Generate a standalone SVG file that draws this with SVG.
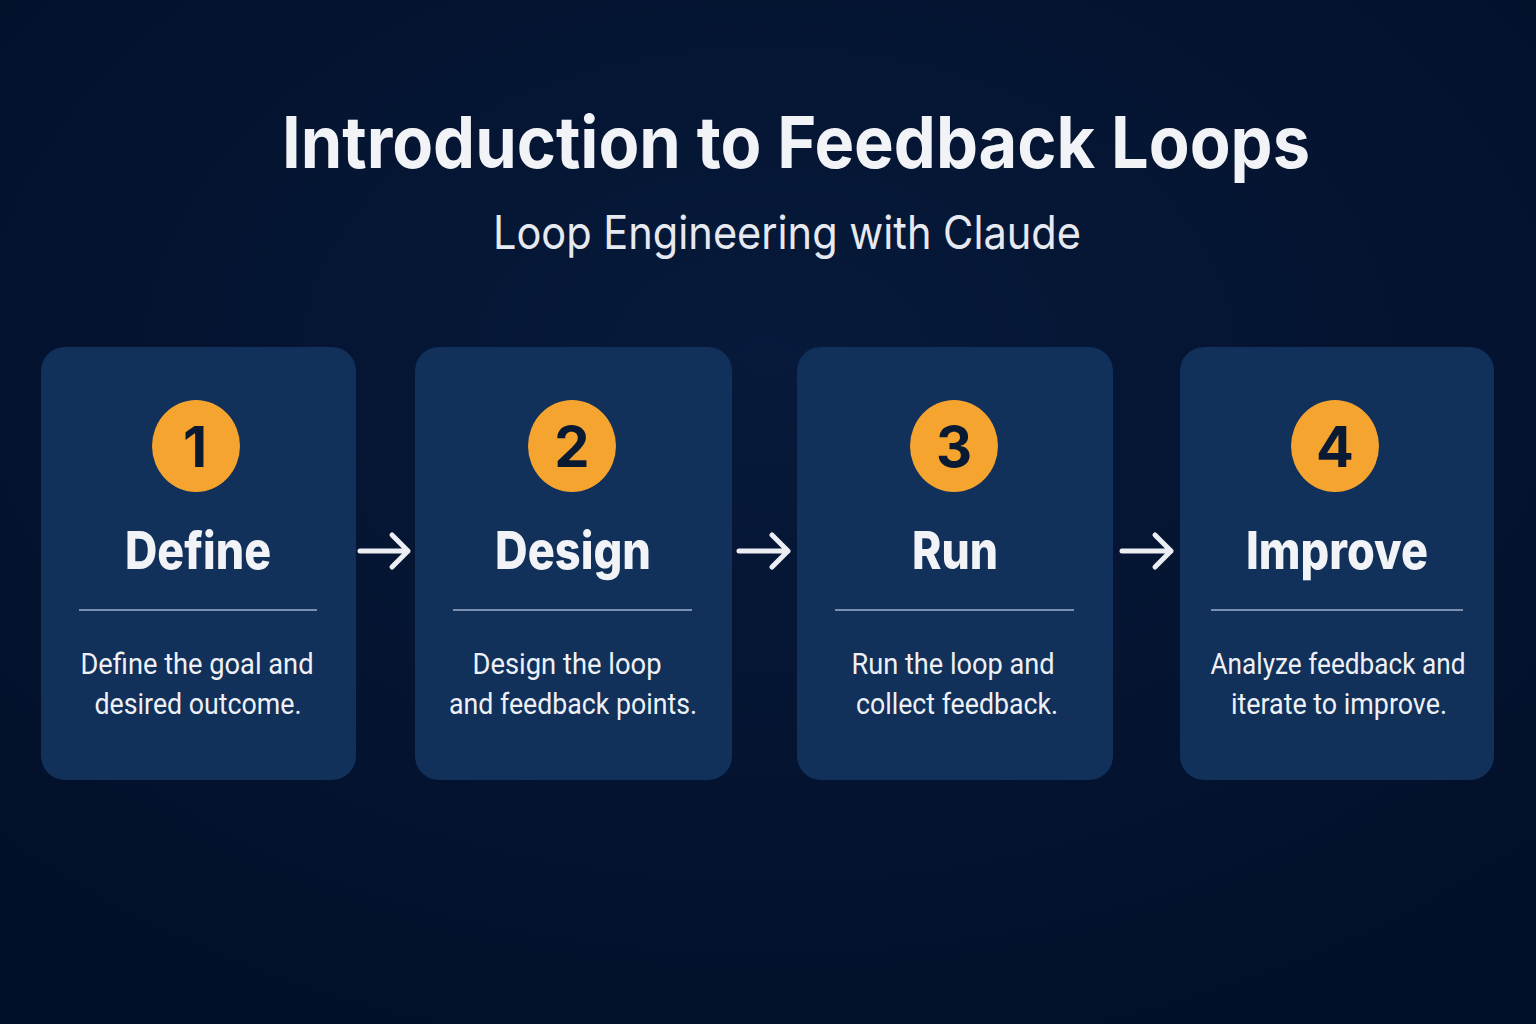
<svg xmlns="http://www.w3.org/2000/svg" width="1536" height="1024" viewBox="0 0 1536 1024">
<defs>
<radialGradient id="bg" cx="50%" cy="35%" r="75%">
<stop offset="0" stop-color="#071a3b"/>
<stop offset="1" stop-color="#020f28"/>
</radialGradient>
<style>
.card{fill:#11305a;}
.circ{fill:#f5a42f;}
.num{font-family:Inter,"Liberation Sans",sans-serif;font-weight:700;font-size:56px;fill:#0b1a33;text-anchor:middle;}
.head{font-family:Inter,"Liberation Sans",sans-serif;font-weight:800;font-size:52px;fill:#f2f3f7;text-anchor:middle;}
.div{stroke:#7d8fae;stroke-width:2;}
.desc{font-family:Roboto,"Liberation Sans",sans-serif;font-size:30px;fill:#eef0f5;text-anchor:middle;}
.arr{fill:none;stroke:#eceef3;stroke-width:5;stroke-linecap:round;stroke-linejoin:round;}
</style>
</defs>
<rect width="1536" height="1024" fill="url(#bg)"/>
<g id="title">
<text x="796" y="168" font-family="Inter,'Liberation Sans',sans-serif" font-weight="700" font-size="72" fill="#f2f3f7" text-anchor="middle" textLength="1028" lengthAdjust="spacingAndGlyphs">Introduction to Feedback Loops</text>
<text x="787" y="249" font-family="Inter,'Liberation Sans',sans-serif" font-size="46" fill="#e6e9f0" text-anchor="middle" textLength="588" lengthAdjust="spacingAndGlyphs">Loop Engineering with Claude</text>
</g>
<g id="connectors">
<g id="arrow1"><path class="arr" d="M360 551 H408 M392 535 L408 551 L392 567"/></g>
<g id="arrow2"><path class="arr" d="M739 551 H788 M772 535 L788 551 L772 567"/></g>
<g id="arrow3"><path class="arr" d="M1122 551 H1171 M1155 535 L1171 551 L1155 567"/></g>
</g>
<g id="node1">
<rect class="card" x="41" y="347" width="315" height="433" rx="24"/>
<ellipse class="circ" cx="196" cy="446" rx="44" ry="46"/>
<text class="num" x="195" y="467">1</text>
<text class="head" x="198" y="569" textLength="146" lengthAdjust="spacingAndGlyphs">Define</text>
<line class="div" x1="79" y1="610" x2="317" y2="610"/>
<text class="desc" x="197" y="674" textLength="233" lengthAdjust="spacingAndGlyphs">Define the goal and</text>
<text class="desc" x="198" y="714" textLength="207" lengthAdjust="spacingAndGlyphs">desired outcome.</text>
</g>
<g id="node2">
<rect class="card" x="415" y="347" width="317" height="433" rx="24"/>
<ellipse class="circ" cx="572" cy="446" rx="44" ry="46"/>
<text class="num" x="572" y="467">2</text>
<text class="head" x="573" y="569" textLength="156" lengthAdjust="spacingAndGlyphs">Design</text>
<line class="div" x1="453" y1="610" x2="692" y2="610"/>
<text class="desc" x="567" y="674" textLength="189" lengthAdjust="spacingAndGlyphs">Design the loop</text>
<text class="desc" x="573" y="714" textLength="248" lengthAdjust="spacingAndGlyphs">and feedback points.</text>
</g>
<g id="node3">
<rect class="card" x="797" y="347" width="316" height="433" rx="24"/>
<ellipse class="circ" cx="954" cy="446" rx="44" ry="46"/>
<text class="num" x="954" y="467">3</text>
<text class="head" x="955" y="569" textLength="86" lengthAdjust="spacingAndGlyphs">Run</text>
<line class="div" x1="835" y1="610" x2="1074" y2="610"/>
<text class="desc" x="953" y="674" textLength="203" lengthAdjust="spacingAndGlyphs">Run the loop and</text>
<text class="desc" x="957" y="714" textLength="202" lengthAdjust="spacingAndGlyphs">collect feedback.</text>
</g>
<g id="node4">
<rect class="card" x="1180" y="347" width="314" height="433" rx="24"/>
<ellipse class="circ" cx="1335" cy="446" rx="44" ry="46"/>
<text class="num" x="1335" y="467">4</text>
<text class="head" x="1337" y="569" textLength="182" lengthAdjust="spacingAndGlyphs">Improve</text>
<line class="div" x1="1211" y1="610" x2="1463" y2="610"/>
<text class="desc" x="1338" y="674" textLength="255" lengthAdjust="spacingAndGlyphs">Analyze feedback and</text>
<text class="desc" x="1339" y="714" textLength="216" lengthAdjust="spacingAndGlyphs">iterate to improve.</text>
</g>
</svg>
